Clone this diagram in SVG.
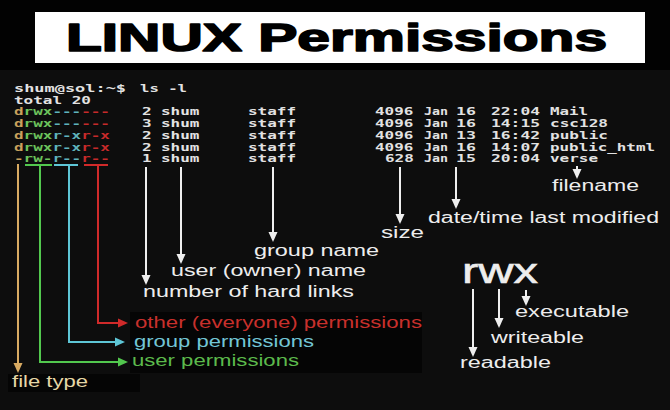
<svg xmlns="http://www.w3.org/2000/svg" width="670" height="410" viewBox="0 0 670 410">
<style>
.t{font-family:"DejaVu Sans Mono","Liberation Mono",monospace;font-size:10.2px;font-weight:bold;fill:#e2e2e2}
.lb{font-family:"Liberation Sans",Arial,sans-serif;font-size:16px;fill:#ededed}
.ft{fill:#c9a15c}.us{fill:#6cc25c}.gr{fill:#5fb3bc}.ot{fill:#c62a2a}
.w{stroke:#eeeeee;stroke-width:2;fill:none}
</style>
<defs>
<marker id="aw" markerUnits="userSpaceOnUse" markerWidth="10" markerHeight="10" refX="8" refY="5" orient="auto"><path d="M0,0.5 L10,5 L0,9.5 z" fill="#eeeeee"/></marker>
<marker id="at" markerUnits="userSpaceOnUse" markerWidth="10" markerHeight="10" refX="8" refY="5" orient="auto"><path d="M0,0.5 L10,5 L0,9.5 z" fill="#d8aa62"/></marker>
<marker id="ag" markerUnits="userSpaceOnUse" markerWidth="10" markerHeight="10" refX="8" refY="5" orient="auto"><path d="M0,0.5 L10,5 L0,9.5 z" fill="#52c84e"/></marker>
<marker id="ac" markerUnits="userSpaceOnUse" markerWidth="10" markerHeight="10" refX="8" refY="5" orient="auto"><path d="M0,0.5 L10,5 L0,9.5 z" fill="#5ec6d6"/></marker>
<marker id="ar" markerUnits="userSpaceOnUse" markerWidth="10" markerHeight="10" refX="8" refY="5" orient="auto"><path d="M0,0.5 L10,5 L0,9.5 z" fill="#d02a2a"/></marker>
</defs>
<rect width="670" height="410" fill="#0d0d0d"/>
<rect width="670" height="70" fill="#020202"/>
<rect x="130" y="312" width="292" height="61" fill="#050505"/>
<rect x="8" y="374" width="132" height="18" fill="#050505"/>

<g id="title">
<rect x="35" y="12" width="610" height="51" fill="#ffffff"/>
<text x="66" y="51" font-family="'Liberation Sans',Arial,sans-serif" font-weight="bold" font-size="39" fill="#000" stroke="#000" stroke-width="1.6" stroke-linejoin="round" textLength="541" lengthAdjust="spacingAndGlyphs">LINUX Permissions</text>
</g>

<g id="terminal">
<text class="t" x="14" y="92" textLength="112" lengthAdjust="spacingAndGlyphs">shum@sol:~$</text>
<text class="t" x="140" y="92" textLength="47" lengthAdjust="spacingAndGlyphs">ls -l</text>
<text class="t" x="14" y="103.7" textLength="77" lengthAdjust="spacingAndGlyphs">total 20</text>

<g id="row1">
<text class="t" x="14" y="115.4" textLength="96" lengthAdjust="spacingAndGlyphs"><tspan class="ft">d</tspan><tspan class="us">rwx</tspan><tspan class="gr">---</tspan><tspan class="ot">---</tspan></text>
<text class="t" x="142" y="115.4" textLength="9.6" lengthAdjust="spacingAndGlyphs">2</text>
<text class="t" x="161" y="115.4" textLength="38.4" lengthAdjust="spacingAndGlyphs">shum</text>
<text class="t" x="248" y="115.4" textLength="48" lengthAdjust="spacingAndGlyphs">staff</text>
<text class="t" x="375" y="115.4" textLength="38.4" lengthAdjust="spacingAndGlyphs">4096</text>
<text class="t" x="424" y="115.4" textLength="24" lengthAdjust="spacingAndGlyphs">Jan</text>
<text class="t" x="456" y="115.4" textLength="20" lengthAdjust="spacingAndGlyphs">16</text>
<text class="t" x="491" y="115.4" textLength="49" lengthAdjust="spacingAndGlyphs">22:04</text>
<text class="t" x="550" y="115.4" textLength="38" lengthAdjust="spacingAndGlyphs">Mail</text>
</g>
<g id="row2">
<text class="t" x="14" y="127.1" textLength="96" lengthAdjust="spacingAndGlyphs"><tspan class="ft">d</tspan><tspan class="us">rwx</tspan><tspan class="gr">---</tspan><tspan class="ot">---</tspan></text>
<text class="t" x="142" y="127.1" textLength="9.6" lengthAdjust="spacingAndGlyphs">3</text>
<text class="t" x="161" y="127.1" textLength="38.4" lengthAdjust="spacingAndGlyphs">shum</text>
<text class="t" x="248" y="127.1" textLength="48" lengthAdjust="spacingAndGlyphs">staff</text>
<text class="t" x="375" y="127.1" textLength="38.4" lengthAdjust="spacingAndGlyphs">4096</text>
<text class="t" x="424" y="127.1" textLength="24" lengthAdjust="spacingAndGlyphs">Jan</text>
<text class="t" x="456" y="127.1" textLength="20" lengthAdjust="spacingAndGlyphs">16</text>
<text class="t" x="491" y="127.1" textLength="49" lengthAdjust="spacingAndGlyphs">14:15</text>
<text class="t" x="550" y="127.1" textLength="58" lengthAdjust="spacingAndGlyphs">csc128</text>
</g>
<g id="row3">
<text class="t" x="14" y="138.8" textLength="96" lengthAdjust="spacingAndGlyphs"><tspan class="ft">d</tspan><tspan class="us">rwx</tspan><tspan class="gr">r-x</tspan><tspan class="ot">r-x</tspan></text>
<text class="t" x="142" y="138.8" textLength="9.6" lengthAdjust="spacingAndGlyphs">2</text>
<text class="t" x="161" y="138.8" textLength="38.4" lengthAdjust="spacingAndGlyphs">shum</text>
<text class="t" x="248" y="138.8" textLength="48" lengthAdjust="spacingAndGlyphs">staff</text>
<text class="t" x="375" y="138.8" textLength="38.4" lengthAdjust="spacingAndGlyphs">4096</text>
<text class="t" x="424" y="138.8" textLength="24" lengthAdjust="spacingAndGlyphs">Jan</text>
<text class="t" x="456" y="138.8" textLength="20" lengthAdjust="spacingAndGlyphs">13</text>
<text class="t" x="491" y="138.8" textLength="49" lengthAdjust="spacingAndGlyphs">16:42</text>
<text class="t" x="550" y="138.8" textLength="58" lengthAdjust="spacingAndGlyphs">public</text>
</g>
<g id="row4">
<text class="t" x="14" y="150.5" textLength="96" lengthAdjust="spacingAndGlyphs"><tspan class="ft">d</tspan><tspan class="us">rwx</tspan><tspan class="gr">r-x</tspan><tspan class="ot">r-x</tspan></text>
<text class="t" x="142" y="150.5" textLength="9.6" lengthAdjust="spacingAndGlyphs">2</text>
<text class="t" x="161" y="150.5" textLength="38.4" lengthAdjust="spacingAndGlyphs">shum</text>
<text class="t" x="248" y="150.5" textLength="48" lengthAdjust="spacingAndGlyphs">staff</text>
<text class="t" x="375" y="150.5" textLength="38.4" lengthAdjust="spacingAndGlyphs">4096</text>
<text class="t" x="424" y="150.5" textLength="24" lengthAdjust="spacingAndGlyphs">Jan</text>
<text class="t" x="456" y="150.5" textLength="20" lengthAdjust="spacingAndGlyphs">16</text>
<text class="t" x="491" y="150.5" textLength="49" lengthAdjust="spacingAndGlyphs">14:07</text>
<text class="t" x="550" y="150.5" textLength="105" lengthAdjust="spacingAndGlyphs">public_html</text>
</g>
<g id="row5">
<text class="t" x="14" y="162.2" textLength="96" lengthAdjust="spacingAndGlyphs"><tspan class="ft">-</tspan><tspan class="us">rw-</tspan><tspan class="gr">r--</tspan><tspan class="ot">r--</tspan></text>
<text class="t" x="142" y="162.2" textLength="9.6" lengthAdjust="spacingAndGlyphs">1</text>
<text class="t" x="161" y="162.2" textLength="38.4" lengthAdjust="spacingAndGlyphs">shum</text>
<text class="t" x="248" y="162.2" textLength="48" lengthAdjust="spacingAndGlyphs">staff</text>
<text class="t" x="385" y="162.2" textLength="28.8" lengthAdjust="spacingAndGlyphs">628</text>
<text class="t" x="424" y="162.2" textLength="24" lengthAdjust="spacingAndGlyphs">Jan</text>
<text class="t" x="456" y="162.2" textLength="20" lengthAdjust="spacingAndGlyphs">15</text>
<text class="t" x="491" y="162.2" textLength="49" lengthAdjust="spacingAndGlyphs">20:04</text>
<text class="t" x="550" y="162.2" textLength="48" lengthAdjust="spacingAndGlyphs">verse</text>
</g>
</g>

<g id="connectors">
<path d="M18,164 V371" stroke="#d8aa62" stroke-width="2" fill="none" marker-end="url(#at)"/>
<path d="M25,165 H52 M40,165 V362 H126" stroke="#52c84e" stroke-width="2" fill="none" marker-end="url(#ag)"/>
<path d="M54,165 H78 M69,165 V342 H123" stroke="#5ec6d6" stroke-width="2" fill="none" marker-end="url(#ac)"/>
<path d="M84,165 H108 M98,165 V323 H126" stroke="#d02a2a" stroke-width="2" fill="none" marker-end="url(#ar)"/>
<path class="w" d="M146,167 V283" marker-end="url(#aw)"/>
<path class="w" d="M181,167 V262" marker-end="url(#aw)"/>
<path class="w" d="M273,167 V240" marker-end="url(#aw)"/>
<path class="w" d="M400,167 V222" marker-end="url(#aw)"/>
<path class="w" d="M456,167 V207" marker-end="url(#aw)"/>
<path class="w" d="M577,166 V177" marker-end="url(#aw)"/>
<path class="w" d="M473,289 V355" marker-end="url(#aw)"/>
<path class="w" d="M499,289 V326" marker-end="url(#aw)"/>
<path class="w" d="M526,290 V304" marker-end="url(#aw)"/>
</g>

<g id="label-filename"><text class="lb" x="552" y="191" textLength="87" lengthAdjust="spacingAndGlyphs">filename</text></g>
<g id="label-date"><text class="lb" x="428" y="223" textLength="231" lengthAdjust="spacingAndGlyphs">date/time last modified</text></g>
<g id="label-size"><text class="lb" x="381" y="238" textLength="43" lengthAdjust="spacingAndGlyphs">size</text></g>
<g id="label-group-name"><text class="lb" x="254" y="256" textLength="125" lengthAdjust="spacingAndGlyphs">group name</text></g>
<g id="label-user-name"><text class="lb" x="171" y="276" textLength="195" lengthAdjust="spacingAndGlyphs">user (owner) name</text></g>
<g id="label-links"><text class="lb" x="143" y="297" textLength="211" lengthAdjust="spacingAndGlyphs">number of hard links</text></g>
<g id="label-other"><text class="lb" x="135" y="328" style="fill:#c8302c" textLength="287" lengthAdjust="spacingAndGlyphs">other (everyone) permissions</text></g>
<g id="label-group-perm"><text class="lb" x="134" y="347" style="fill:#72c6d6" textLength="180" lengthAdjust="spacingAndGlyphs">group permissions</text></g>
<g id="label-user-perm"><text class="lb" x="132" y="366" style="fill:#5cba4c" textLength="167" lengthAdjust="spacingAndGlyphs">user permissions</text></g>
<g id="label-file-type"><text class="lb" x="12" y="387" style="fill:#e6d7a6" textLength="76" lengthAdjust="spacingAndGlyphs">file type</text></g>
<g id="rwx"><text class="lb" x="462" y="283" style="font-size:35px" stroke="#ededed" stroke-width="0.6" textLength="76" lengthAdjust="spacingAndGlyphs">rwx</text></g>
<g id="label-exec"><text class="lb" x="515" y="317" textLength="114" lengthAdjust="spacingAndGlyphs">executable</text></g>
<g id="label-write"><text class="lb" x="491" y="343" textLength="93" lengthAdjust="spacingAndGlyphs">writeable</text></g>
<g id="label-read"><text class="lb" x="460" y="368" textLength="91" lengthAdjust="spacingAndGlyphs">readable</text></g>
</svg>
